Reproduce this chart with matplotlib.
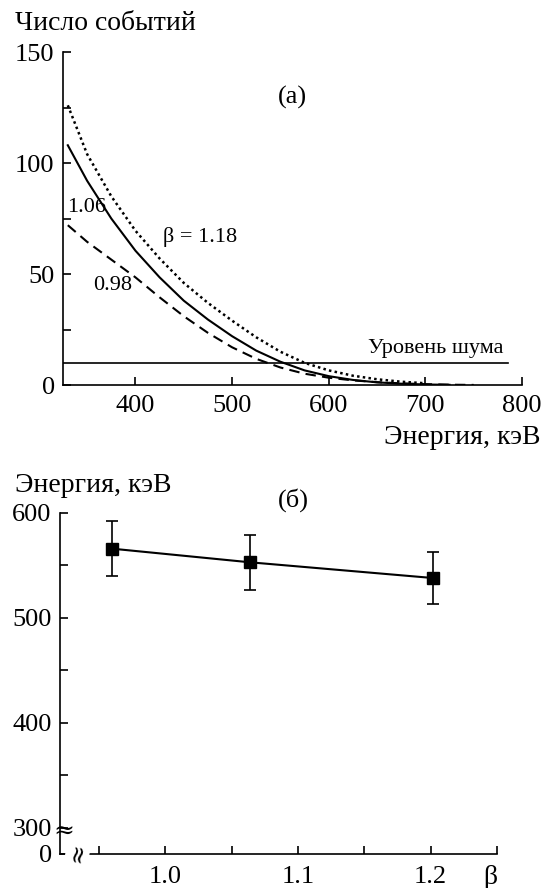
import numpy as np
import matplotlib
matplotlib.use("Agg")
import matplotlib.pyplot as plt
from matplotlib.ticker import FixedLocator

plt.rcParams['font.family'] = ['Liberation Serif', 'DejaVu Serif']

# (a) number of events vs energy
energy = [330, 350, 375, 400, 425, 450, 475, 500, 525, 550, 575, 600, 625, 650, 675, 700, 725, 750]
events_118 = [126, 104, 85, 69.5, 57, 46, 37, 29, 21.5, 15, 10, 6.6, 4.2, 2.6, 1.5, 0.8]
events_106 = [108, 92, 75, 60.5, 48.5, 38, 29.5, 22, 15.5, 10.5, 6.6, 4, 2.3, 1.2, 0.6, 0.25, 0.1]
events_098 = [72, 64.5, 56.5, 48.5, 39.5, 31, 23.5, 17, 11.8, 7.9, 5.1, 3.3, 2.1, 1.3, 0.75, 0.4, 0.15, 0.05]
noise_level = 10

# (б) threshold energy vs beta
beta = [0.96, 1.064, 1.202]
thr_energy = [566, 553, 538]
thr_err = [26, 26, 25]

fig = plt.figure(figsize=(5.51, 8.88), dpi=100)
ax1 = fig.add_axes([0.1143, 0.5664, 0.8331, 0.375])
ax2 = fig.add_axes([0.1089, 0.0383, 0.7931, 0.384])

fs = 20
tfs = 19
for ax in (ax1, ax2):
    ax.spines['top'].set_visible(False)
    ax.spines['right'].set_visible(False)
    for s in ('left', 'bottom'):
        ax.spines[s].set_linewidth(1.2)
    ax.tick_params(which='both', direction='in', length=6, width=1.2, labelsize=tfs)
    ax.tick_params(axis='y', pad=6)
ax1.tick_params(axis='x', pad=7)
ax2.tick_params(axis='x', pad=9)

# top panel
ax1.plot(energy[:len(events_118)], events_118, color='black', lw=1.8, ls=(0, (1, 1.3)))
ax1.plot(energy[:len(events_106)], events_106, color='black', lw=1.5)
ax1.plot(energy[:len(events_098)], events_098, color='black', lw=1.5, ls=(0, (5, 3)))
ax1.plot([325, 786], [noise_level, noise_level], color='black', lw=1.2)
ax1.set_xlim(325, 800)
ax1.set_ylim(0, 150)
ax1.set_xticks([400, 500, 600, 700, 800])
ax1.set_yticks([0, 50, 100, 150])
ax1.yaxis.set_minor_locator(FixedLocator([25, 75, 125]))
ax1.text(711, 16.5, 'Уровень шума', fontsize=16, ha='center', va='center')
ax1.text(562, 129.7, '(а)', fontsize=tfs, ha='center', va='center')
ax1.text(429, 66.5, 'β = 1.18', fontsize=16, ha='left', va='center')
ax1.text(329, 80, '1.06', fontsize=16, ha='left', va='center')
ax1.text(356, 45, '0.98', fontsize=16, ha='left', va='center')
fig.text(15 / 551, 1 - 23 / 888, 'Число событий', fontsize=fs, ha='left', va='center')
fig.text(541 / 551, 1 - 437 / 888, 'Энергия, кэВ', fontsize=fs, ha='right', va='center')

# bottom panel
ax2.errorbar(beta, thr_energy, yerr=thr_err, color='black', lw=1.5, marker='s',
             markersize=8, capsize=4, elinewidth=1.2, capthick=1.2)
ax2.set_xlim(0.9208, 1.25)
ax2.set_ylim(275, 600)
ax2.set_xticks([1.0, 1.1, 1.2])
ax2.set_xticklabels(['1.0', '1.1', '1.2'])
ax2.xaxis.set_minor_locator(FixedLocator([0.95, 1.05, 1.15, 1.25]))
ax2.set_yticks([275, 300, 400, 500, 600])
ax2.set_yticklabels(['0', '300', '400', '500', '600'])
ax2.yaxis.set_minor_locator(FixedLocator([350, 450, 550]))
ax2.text(0.9238, 296, '≈', fontsize=18, ha='center', va='center', family=['DejaVu Serif'])
ax2.text(0.934, 276, '≈', fontsize=17, ha='center', va='center', rotation=80,
         family=['DejaVu Serif'], bbox=dict(facecolor='white', edgecolor='none', pad=0.3))
ax2.text(1.0966, 612, '(б)', fontsize=tfs, ha='center', va='center', clip_on=False)
fig.text(15 / 551, 1 - 485 / 888, 'Энергия, кэВ', fontsize=fs, ha='left', va='center')
fig.text(490 / 551, 1 - 877 / 888, 'β', fontsize=fs, ha='center', va='center')

fig.savefig('out.png', dpi=100)
